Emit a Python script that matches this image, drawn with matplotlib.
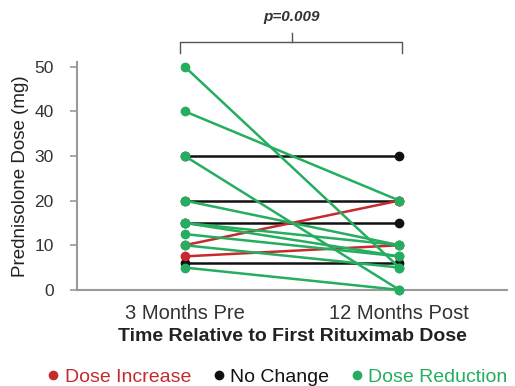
import matplotlib
matplotlib.use("Agg")
import matplotlib.pyplot as plt
from matplotlib.lines import Line2D

plt.rcParams["font.family"] = ["Liberation Sans", "DejaVu Sans"]

CATEGORIES = ["3 Months Pre", "12 Months Post"]

# paired doses (pre, post) per patient group
INCREASE_PRE = [10, 7.5]
INCREASE_POST = [20, 10]
NOCHANGE_PRE = [30, 20, 15, 6]
NOCHANGE_POST = [30, 20, 15, 6]
REDUCTION_PRE = [50, 40, 30, 20, 15, 15, 12.5, 10, 5]
REDUCTION_POST = [5, 20, 0, 10, 10, 7.5, 7.5, 5, 0]

RED = "#c62a2f"
BLACK = "#111111"
GREEN = "#25ad60"
AXIS_GRAY = "#9a9a9a"

fig = plt.figure(figsize=(5.15, 3.86), dpi=100)
ax = fig.add_axes([0.150, 0.249, 0.834, 0.590])

for pre, post, col in [(NOCHANGE_PRE, NOCHANGE_POST, BLACK),
                       (INCREASE_PRE, INCREASE_POST, RED),
                       (REDUCTION_PRE, REDUCTION_POST, GREEN)]:
    for a, b in zip(pre, post):
        ax.plot([0, 1], [a, b], color=col, linewidth=1.8, marker="o",
                markersize=7, markeredgewidth=0, zorder=3, clip_on=False)

ax.set_xlim(-0.5, 1.5)
ax.set_ylim(0, 51)
ax.set_xticks([0, 1])
ax.set_xticklabels(CATEGORIES, fontsize=14.5, color="#333333")
ax.set_yticks([0, 10, 20, 30, 40, 50])
ax.tick_params(axis="x", length=0, pad=10)
ax.tick_params(axis="y", length=5, color=AXIS_GRAY, width=1.2,
               labelsize=12.5, labelcolor="#333333", pad=12)
for s in ["top", "right"]:
    ax.spines[s].set_visible(False)
for s in ["left", "bottom"]:
    ax.spines[s].set_color(AXIS_GRAY)
    ax.spines[s].set_linewidth(1.5)

ax.set_xlabel("Time Relative to First Rituximab Dose", fontsize=14,
              fontweight="bold", color="#222222", labelpad=4)
ax.set_ylabel("Prednisolone Dose (mg)", fontsize=13.5, color="#222222",
              labelpad=4)

# significance bracket
ax.plot([-0.02, -0.02, 1.01, 1.01], [53, 55.5, 55.5, 53],
        color="#555555", linewidth=1, clip_on=False)
ax.plot([0.5, 0.5], [55.5, 57.5], color="#555555", linewidth=1, clip_on=False)
ax.text(0.5, 61, "p=0.009", ha="center", va="center", fontsize=11,
        fontweight="bold", fontstyle="italic", color="#333333")

handles = [Line2D([], [], linestyle="none", marker="o", markersize=7,
                  color=c, markeredgewidth=0) for c in (RED, BLACK, GREEN)]
fig.legend(handles, ["Dose Increase", "No Change", "Dose Reduction"],
           loc="lower center", bbox_to_anchor=(0.535, -0.045), ncol=3,
           frameon=False, fontsize=14, handletextpad=0.1, columnspacing=0.9,
           labelcolor=[RED, BLACK, GREEN], handlelength=1.0)

fig.savefig("out.png", dpi=100)
